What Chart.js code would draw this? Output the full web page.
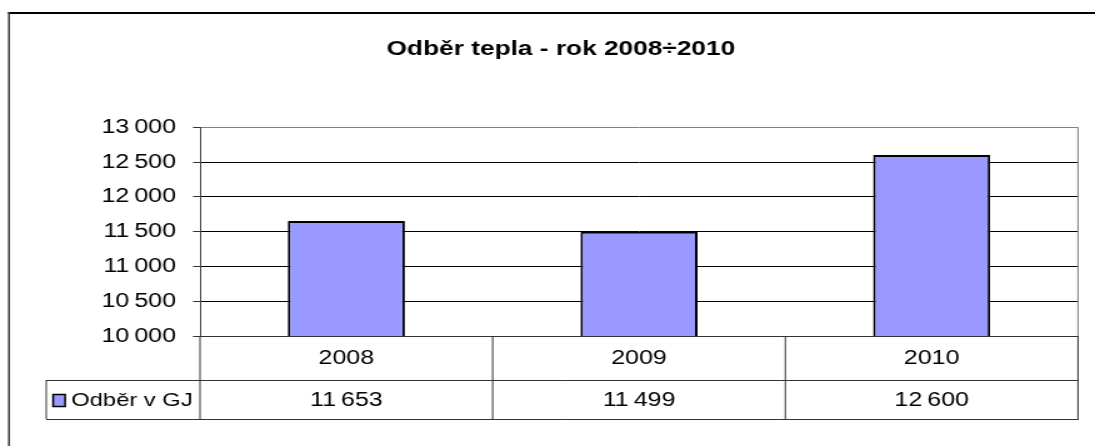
<!DOCTYPE html>
<html lang="cs">
<head>
<meta charset="UTF-8">
<title>Odběr tepla - rok 2008÷2010</title>
<script src="https://cdn.jsdelivr.net/npm/chart.js"></script>
<style>
    html, body { margin: 0; padding: 0; background: #fff; overflow: hidden; }
    /* the original picture is stretched sideways, so the canvas is too */
    #myChart { transform: scaleX(1.25); transform-origin: 0 0; }
</style>
</head>
<body>
<canvas id="myChart" width="876" height="446"></canvas>
<script>
    // data
    const years = ['2008', '2009', '2010'];
    const odber = [11653, 11499, 12600];
    const seriesName = 'Odběr v GJ';
    const chartTitle = 'Odběr tepla - rok 2008÷2010';
    const yMin = 10000;
    const yMax = 13000;
    const yStep = 500;

    const FONT = '"Liberation Sans", Arial, sans-serif';
    const BAR = '#9999ff';

    // 13000 -> "13 000"
    function fmt(n) {
        return String(n).replace(/\B(?=(\d{3})+(?!\d))/g, '\u2009');
    }

    // data table under the plot, plot border and outer frame
    const tablePlugin = {
        id: 'dataTable',
        afterDraw(chart) {
            const ctx = chart.ctx;
            const a = chart.chartArea;
            const x = chart.scales.x;
            const colW = (a.right - a.left) / years.length;
            const row1 = a.bottom + 44;
            const row2 = row1 + 39;
            const tableLeft = 37;

            ctx.save();
            // plot border on the right
            ctx.strokeStyle = '#808080';
            ctx.lineWidth = 1;
            ctx.beginPath();
            ctx.moveTo(a.right, a.top);
            ctx.lineTo(a.right, a.bottom);
            ctx.stroke();

            // table grid
            ctx.strokeStyle = '#333';
            ctx.beginPath();
            for (let i = 0; i <= years.length; i++) {
                const cx = a.left + i * colW;
                ctx.moveTo(cx, a.bottom);
                ctx.lineTo(cx, row2);
            }
            ctx.moveTo(a.left, a.bottom + 0.5);
            ctx.lineTo(a.right, a.bottom + 0.5);
            ctx.moveTo(tableLeft, row1 + 0.5);
            ctx.lineTo(a.right + 0.5, row1 + 0.5);
            ctx.moveTo(tableLeft, row2 + 0.5);
            ctx.lineTo(a.right + 0.5, row2 + 0.5);
            ctx.moveTo(tableLeft, row1);
            ctx.lineTo(tableLeft, row2);
            ctx.stroke();

            // values row
            ctx.fillStyle = '#000';
            ctx.font = '20px ' + FONT;
            ctx.textAlign = 'center';
            ctx.textBaseline = 'middle';
            const midY = (row1 + row2) / 2 + 1;
            odber.forEach((v, i) => {
                ctx.fillText(fmt(v), x.getPixelForValue(i), midY);
            });

            // legend key + series name
            ctx.fillStyle = BAR;
            ctx.fillRect(42.5, midY - 6, 9.6, 12);
            ctx.strokeStyle = '#000';
            ctx.lineWidth = 1.5;
            ctx.strokeRect(42.5, midY - 6, 9.6, 12);
            ctx.fillStyle = '#000';
            ctx.textAlign = 'left';
            ctx.font = '19px ' + FONT;
            ctx.fillText(seriesName, 57, midY);

            // outer frame (top and left edge)
            ctx.fillStyle = '#000';
            ctx.fillRect(6.4, 12, 870, 2);
            ctx.fillStyle = '#444';
            ctx.fillRect(6.4, 12, 1.6, 434);
            ctx.restore();
        }
    };

    const ctx = document.getElementById('myChart').getContext('2d');
    const myChart = new Chart(ctx, {
        type: 'bar',
        data: {
            labels: years,
            datasets: [{
                label: seriesName,
                data: odber,
                backgroundColor: BAR,
                borderColor: '#000',
                borderWidth: 2,
                borderSkipped: false,
                barPercentage: 0.4,
                categoryPercentage: 1.0
            }]
        },
        options: {
            responsive: false,
            animation: false,
            layout: { padding: { left: 35, right: 13.6, top: 0, bottom: 27 } },
            plugins: {
                legend: { display: false },
                tooltip: { enabled: false },
                title: {
                    display: true,
                    text: chartTitle,
                    color: '#000',
                    font: { family: FONT, size: 21, weight: 'bold' },
                    padding: { top: 37, bottom: 65 }
                }
            },
            scales: {
                x: {
                    grid: { display: false, drawTicks: false },
                    border: { display: false },
                    ticks: {
                        color: '#000',
                        padding: 10,
                        font: { family: FONT, size: 20 }
                    },
                    afterFit(scale) { scale.height = 83; }
                },
                y: {
                    min: yMin,
                    max: yMax,
                    grid: {
                        color: c => (c.tick && c.tick.value === yMax ? '#808080' : '#000'),
                        tickColor: '#333',
                        tickLength: 5.6,
                        lineWidth: 1
                    },
                    border: { color: '#404040', width: 1 },
                    ticks: {
                        stepSize: yStep,
                        color: '#000',
                        padding: 13.6,
                        font: { family: FONT, size: 20 },
                        callback: v => fmt(v)
                    },
                    afterFit(scale) { scale.width = 125; }
                }
            }
        },
        plugins: [tablePlugin]
    });
</script>
</body>
</html>
